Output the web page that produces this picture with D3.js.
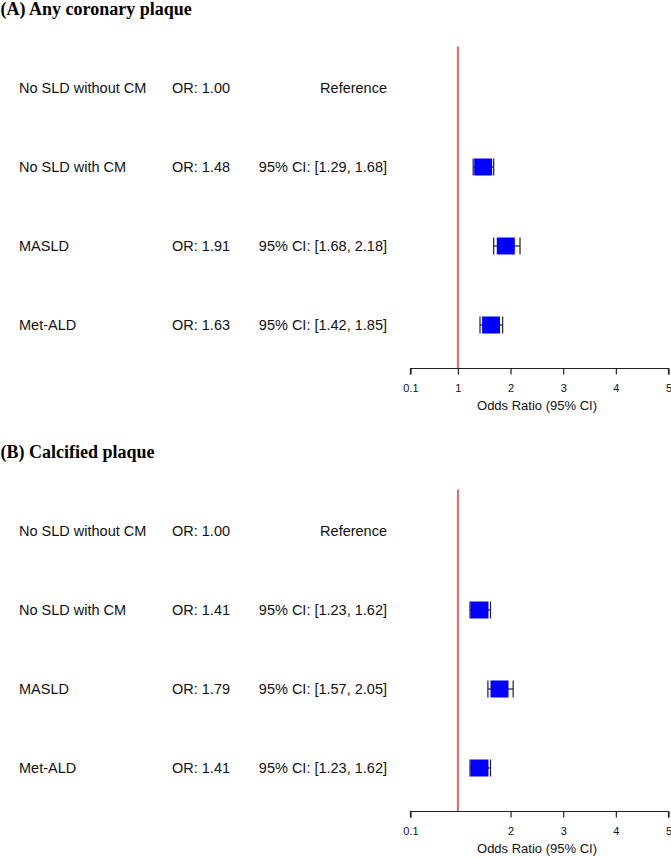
<!DOCTYPE html>
<html lang="en">
<head>
<meta charset="utf-8">
<script src="https://cdn.jsdelivr.net/npm/d3@7"></script>
<style>
  body { margin: 0; background: #fff; }
  svg { display: block; }
  .lbl { font-family: "Liberation Sans", Arial, sans-serif; font-size: 14.5px; fill: #111; }
  .ttl { font-family: "Liberation Serif", "Times New Roman", serif; font-size: 18px; font-weight: bold; fill: #000; }
  .tick text { font-family: "Liberation Sans", Arial, sans-serif; font-size: 11px; fill: #111; }
</style>
</head>
<body>
<script>
// categories and values
const categories = ["No SLD without CM", "No SLD with CM", "MASLD", "Met-ALD"]

const titleA = "(A) Any coronary plaque"
const orA = [1.00, 1.48, 1.91, 1.63]
const loA = [null, 1.29, 1.68, 1.42]
const hiA = [null, 1.68, 2.18, 1.85]
const ticksA = [0.1, 1, 2, 3, 4, 5]

const titleB = "(B) Calcified plaque"
const orB = [1.00, 1.41, 1.79, 1.41]
const loB = [null, 1.23, 1.57, 1.23]
const hiB = [null, 1.62, 2.05, 1.62]
const ticksB = [0.1, 2, 3, 4, 5]

const w = 671
const h = 857

const svg = d3.select('body').append('svg')
    .attr('width', w)
    .attr('height', h)

// linear odds ratio axis, 0.1 .. 5
const x = d3.scaleLinear().domain([0.1, 5]).range([410.5, 668.5])

function panel(top, title, or, lo, hi, ticks) {
    const g = svg.append('g').attr('transform', 'translate(0,' + top + ')')
    const y = d3.scalePoint().domain(categories).range([88, 325])
    const axisY = 368.5

    g.append('text').attr('class', 'ttl')
        .attr('x', 0.5).attr('y', 15)
        .text(title)

    // reference line at OR = 1
    g.append('line')
        .attr('x1', x(1)).attr('x2', x(1))
        .attr('y1', 46.5).attr('y2', axisY)
        .attr('stroke', '#de6470')
        .attr('stroke-width', 2)

    const rows = categories.map((c, i) => ({ c: c, or: or[i], lo: lo[i], hi: hi[i] }))

    // text columns
    g.selectAll('text.cat').data(rows).enter().append('text')
        .attr('class', 'lbl cat')
        .attr('x', 19).attr('y', d => y(d.c) + 5)
        .text(d => d.c)
    g.selectAll('text.or').data(rows).enter().append('text')
        .attr('class', 'lbl or')
        .attr('x', 172).attr('y', d => y(d.c) + 5)
        .text(d => 'OR: ' + d.or.toFixed(2))
    g.selectAll('text.ci').data(rows).enter().append('text')
        .attr('class', 'lbl ci')
        .attr('x', 387).attr('y', d => y(d.c) + 5)
        .attr('text-anchor', 'end')
        .text(d => d.lo == null ? 'Reference' : '95% CI: [' + d.lo.toFixed(2) + ', ' + d.hi.toFixed(2) + ']')

    // whiskers and boxes (reference row has none)
    const est = g.selectAll('g.est').data(rows.filter(d => d.lo != null)).enter()
        .append('g').attr('class', 'est')
    const bh = 17, bw = 18
    est.append('line')
        .attr('x1', d => x(d.lo)).attr('x2', d => x(d.hi))
        .attr('y1', d => y(d.c)).attr('y2', d => y(d.c))
        .attr('stroke', '#222').attr('stroke-width', 1.2)
    est.append('line')
        .attr('x1', d => x(d.lo)).attr('x2', d => x(d.lo))
        .attr('y1', d => y(d.c) - bh / 2).attr('y2', d => y(d.c) + bh / 2)
        .attr('stroke', '#222').attr('stroke-width', 1.2)
    est.append('line')
        .attr('x1', d => x(d.hi)).attr('x2', d => x(d.hi))
        .attr('y1', d => y(d.c) - bh / 2).attr('y2', d => y(d.c) + bh / 2)
        .attr('stroke', '#222').attr('stroke-width', 1.2)
    est.append('rect')
        .attr('x', d => x(d.or) - bw / 2)
        .attr('y', d => y(d.c) - bh / 2)
        .attr('width', bw).attr('height', bh)
        .attr('fill', '#0000ff')

    // x axis
    const ax = g.append('g')
        .attr('transform', 'translate(0,' + axisY + ')')
        .call(d3.axisBottom(x).tickValues(ticks).tickFormat(d3.format('')).tickSize(6).tickPadding(10))
    ax.select('.domain').attr('stroke', '#222').attr('stroke-width', 1.2)
        .attr('d', 'M' + x.range()[0] + ',6V0H' + x.range()[1] + 'V6')
    ax.selectAll('.tick line').attr('stroke', '#222').attr('stroke-width', 1.2)

    g.append('text').attr('class', 'lbl')
        .attr('x', 537).attr('y', 410)
        .attr('text-anchor', 'middle')
        .style('font-size', '13px')
        .text('Odds Ratio (95% CI)')
}

panel(0, titleA, orA, loA, hiA, ticksA)
panel(443, titleB, orB, loB, hiB, ticksB)
</script>
</body>
</html>
